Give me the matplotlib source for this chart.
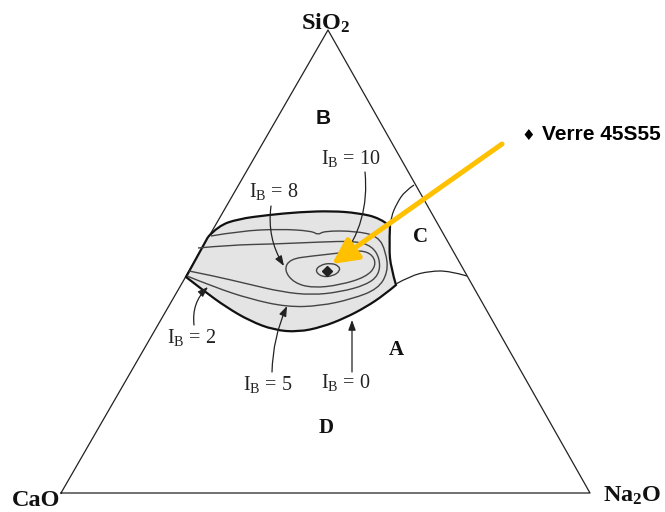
import numpy as np
import matplotlib
matplotlib.use('Agg')
import matplotlib.pyplot as plt
from matplotlib.path import Path
from matplotlib.patches import PathPatch

plt.rcParams['mathtext.fontset'] = 'custom'
plt.rcParams['mathtext.rm'] = 'Liberation Serif'
plt.rcParams['mathtext.bf'] = 'Liberation Serif:bold'

# Diagram geometry (image pixel space, y downwards)
triangle = [(61, 493), (590, 493), (328, 30)]

# bioactive zone boundary (I_B = 0), split into smooth pieces
zone_top = [(208, 237), (218, 226), (238, 219), (268, 215), (300, 212),
            (332, 211), (358, 213), (380, 218), (390, 226)]
zone_right = [(390, 226), (389, 248), (391, 268), (396, 285)]
zone_bottom = [(396, 285), (384, 295), (366, 307), (345, 318), (322, 327),
               (298, 332), (274, 330), (250, 321), (226, 307), (204, 291),
               (186, 277)]

# iso-bioactivity contours
c_ib2 = [(211, 236), (240, 231), (280, 229), (312, 231), (318, 235),
         (324, 231), (355, 231), (378, 236), (386, 252), (388, 272),
         (378, 289), (352, 299), (320, 306), (287, 307), (250, 299),
         (214, 287), (187, 276)]
c_ib5 = [(198, 248), (230, 245), (275, 244), (320, 242), (355, 241),
         (372, 246), (380, 259), (379, 275), (366, 285), (340, 292),
         (312, 295), (282, 292), (248, 284), (214, 276), (189, 271)]
c_ib8 = [(284, 270), (290, 259), (312, 256), (340, 253), (361, 250),
         (373, 255), (376, 266), (366, 277), (340, 285), (313, 288),
         (294, 283)]
c_ib10 = [(315, 271), (320, 265), (331, 263), (339, 266), (340, 271),
          (333, 276), (322, 277)]
glass_point = (327, 271)

# other phase-field boundaries
line_c = [(414, 185), (405, 191), (397, 203), (391, 217), (390, 226)]
line_ac = [(396, 284), (410, 276), (430, 271), (450, 271), (467, 276)]

# arrow labels: text, text position, arrow tail, arrow head, curvature
ib_texts = ['I$_\\mathrm{B}$ = 10', 'I$_\\mathrm{B}$ = 8', 'I$_\\mathrm{B}$ = 2',
            'I$_\\mathrm{B}$ = 5', 'I$_\\mathrm{B}$ = 0']
ib_text_pos = [(351, 159), (274, 192), (192, 338), (268, 385), (346, 383)]
ib_tails = [(365, 172), (271, 206), (194, 325), (272, 372), (352, 372)]
ib_heads = [(339, 262), (284, 266), (208, 287), (287, 306), (352, 320)]
ib_rads = [-0.2, 0.18, -0.25, -0.1, 0.0]

region_names = ['B', 'C', 'A', 'D']
region_pos = [(323, 118), (421, 237), (396, 350), (326, 428)]
vertex_names = ['$\\mathbf{SiO_2}$', 'CaO', '$\\mathbf{Na_2O}$']
vertex_pos = [(326, 23), (36, 501), (632, 496)]


def smooth_path(pts):
    pts = np.asarray(pts, float)
    verts = [pts[0]]
    codes = [Path.MOVETO]
    n = len(pts)
    for i in range(1, n - 1):
        end = (pts[i] + pts[i + 1]) / 2 if i < n - 2 else pts[i + 1]
        verts += [pts[i], end]
        codes += [Path.CURVE3, Path.CURVE3]
    if n == 2:
        verts.append(pts[1])
        codes.append(Path.LINETO)
    return verts, codes


def closed_path(pts):
    pts = np.asarray(pts, float)
    n = len(pts)
    start = (pts[-1] + pts[0]) / 2
    verts = [start]
    codes = [Path.MOVETO]
    for i in range(n):
        verts += [pts[i], (pts[i] + pts[(i + 1) % n]) / 2]
        codes += [Path.CURVE3, Path.CURVE3]
    return Path(verts, codes)


fig = plt.figure(figsize=(6.65, 5.12), dpi=100)
ax = fig.add_axes([0, 0, 1, 1])
ax.set_xlim(0, 665)
ax.set_ylim(512, 0)
ax.axis('off')

# triangle
tx = [p[0] for p in triangle] + [triangle[0][0]]
ty = [p[1] for p in triangle] + [triangle[0][1]]
ax.plot(tx, ty, color='#222222', lw=0.9)

# gray zone
verts, codes = [], []
for i, seg in enumerate([zone_top, zone_right, zone_bottom]):
    v, c = smooth_path(seg)
    if i > 0:
        v, c = v[1:], c[1:]
    verts += v
    codes += c
verts.append(zone_top[0])
codes.append(Path.LINETO)
ax.add_patch(PathPatch(Path(verts, codes), facecolor='#e4e4e4',
                       edgecolor='#111111', lw=1.6, zorder=2))

for seg in [c_ib2, c_ib5]:
    v, c = smooth_path(seg)
    ax.add_patch(PathPatch(Path(v, c), facecolor='none', edgecolor='#444444',
                           lw=1.0, zorder=3))
for loop in [c_ib8, c_ib10]:
    ax.add_patch(PathPatch(closed_path(loop), facecolor='none',
                           edgecolor='#444444', lw=1.0, zorder=3))
ax.plot(*glass_point, marker='D', ms=5, color='#222222', zorder=4)

for seg in [line_c, line_ac]:
    v, c = smooth_path(seg)
    ax.add_patch(PathPatch(Path(v, c), facecolor='none', edgecolor='#222222',
                           lw=0.9, zorder=3))

# labelled arrows
for txt, pos, tail, head, rad in zip(ib_texts, ib_text_pos, ib_tails, ib_heads, ib_rads):
    ax.text(pos[0], pos[1], txt, fontsize=14.5, family='Liberation Serif',
            ha='center', va='center', color='#222222')
    ax.annotate('', xy=head, xytext=tail,
                arrowprops=dict(arrowstyle='-|>,head_length=0.6,head_width=0.22',
                                color='#222222', lw=0.9, shrinkA=0, shrinkB=0,
                                connectionstyle='arc3,rad=%s' % rad),
                zorder=5)

for name, pos in zip(region_names, region_pos):
    fam = 'Liberation Sans' if name == 'B' else 'Liberation Serif'
    ax.text(pos[0], pos[1], name, fontsize=15, fontweight='bold', family=fam,
            ha='center', va='center', color='#111111')

for name, pos in zip(vertex_names, vertex_pos):
    ax.text(pos[0], pos[1], name, fontsize=17.5, fontweight='bold',
            family='Liberation Serif', ha='center', va='center', color='#111111')

# highlighted glass composition
ax.annotate('', xy=(332, 264), xytext=(502, 144),
            arrowprops=dict(arrowstyle='-|>,head_length=1.1,head_width=0.55',
                            color='#FFC000', lw=3.6, shrinkA=0, shrinkB=0,
                            mutation_scale=14),
            zorder=6)
ax.text(528, 135, '\u2666', fontsize=11, family='DejaVu Sans',
        ha='center', va='center', color='black')
ax.text(542, 135, 'Verre 45S55', fontsize=15, fontweight='bold',
        family='Liberation Sans', ha='left', va='center', color='black')

fig.savefig('out.png', dpi=100)
